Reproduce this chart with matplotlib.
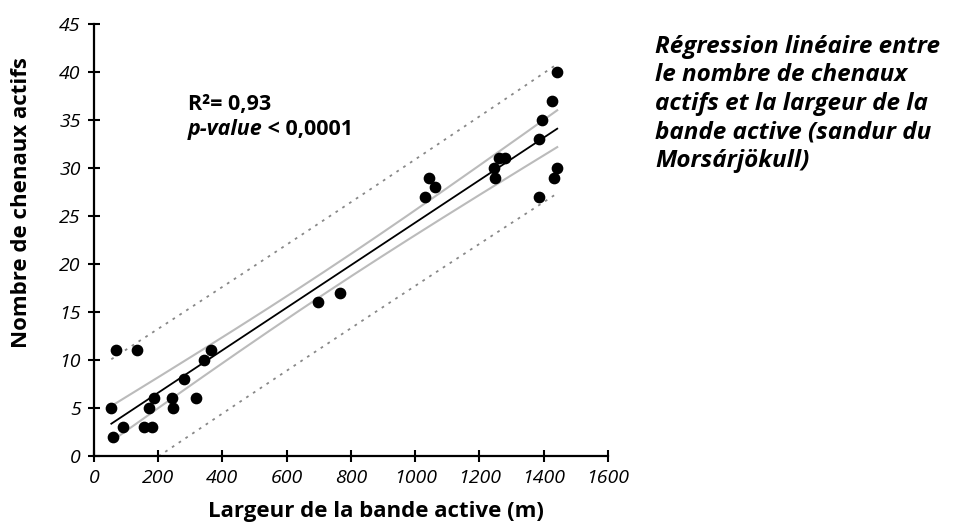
import numpy as np
import matplotlib
matplotlib.use("Agg")
import matplotlib.pyplot as plt

# largeur de la bande active (m) / nombre de chenaux actifs
largeur = [54, 59, 68, 89, 134, 155, 171, 182, 186, 242, 246, 281, 318, 343, 363,
           698, 767, 1031, 1042, 1063, 1245, 1249, 1260, 1279,
           1386, 1386, 1396, 1427, 1432, 1442, 1442]
chenaux = [5, 2, 11, 3, 11, 3, 5, 3, 6, 6, 5, 8, 6, 10, 11,
           16, 17, 27, 29, 28, 30, 29, 31, 31,
           27, 33, 35, 37, 29, 30, 40]

xticks = [0, 200, 400, 600, 800, 1000, 1200, 1400, 1600]
yticks = [0, 5, 10, 15, 20, 25, 30, 35, 40, 45]

titre = ['Régression linéaire entre', 'le nombre de chenaux',
         'actifs et la largeur de la', 'bande active (sandur du',
         'Morsárjökull)']

x = np.array(largeur, dtype=float)
y = np.array(chenaux, dtype=float)

# regression lineaire + bandes de confiance / prediction (95%)
n = len(x)
b, a = np.polyfit(x, y, 1)
res = y - (a + b * x)
s = np.sqrt(np.sum(res**2) / (n - 2))
t = 2.045
xx = np.linspace(x.min(), x.max(), 200)
yy = a + b * xx
sxx = np.sum((x - x.mean())**2)
ci = t * s * np.sqrt(1/n + (xx - x.mean())**2 / sxx)
pi = t * s * np.sqrt(1 + 1/n + (xx - x.mean())**2 / sxx)

plt.rcParams['font.family'] = ['Open Sans', 'DejaVu Sans']

fig = plt.figure(figsize=(9.54, 5.31), dpi=100)
ax = fig.add_axes([0.0985, 0.1412, 0.5388, 0.8136])

ax.plot(xx, yy + pi, color='#888888', lw=1.3, ls=(0, (1.5, 3)))
ax.plot(xx, yy - pi, color='#888888', lw=1.3, ls=(0, (1.5, 3)))
ax.plot(xx, yy + ci, color='#bbbbbb', lw=1.5)
ax.plot(xx, yy - ci, color='#bbbbbb', lw=1.5)
ax.plot(xx, yy, color='black', lw=1.3)
ax.scatter(x, y, s=55, color='black', zorder=3, clip_on=False)

ax.set_xlim(0, 1600)
ax.set_ylim(0, 45)
ax.set_xticks(xticks)
ax.set_yticks(yticks)
for sp in ['top', 'right']:
    ax.spines[sp].set_visible(False)
for sp in ['left', 'bottom']:
    ax.spines[sp].set_linewidth(1.6)
ax.tick_params(direction='inout', length=9, width=1.5, labelsize=14, pad=5)
for lab in ax.get_xticklabels() + ax.get_yticklabels():
    lab.set_fontstyle('italic')

ax.set_xlabel('Largeur de la bande active (m)', fontsize=16, fontweight='bold')
ax.set_ylabel('Nombre de chenaux actifs', fontsize=16, fontweight='bold')
ax.xaxis.set_label_coords(0.549, -0.105)
ax.yaxis.set_label_coords(-0.12, 0.586)

ax.text(0.182, 0.80, 'R²= 0,93', transform=ax.transAxes, fontsize=15.5,
        fontweight='bold', va='baseline')
t1 = ax.text(0.182, 0.742, 'p-value', transform=ax.transAxes, fontsize=15.5,
             fontweight='bold', fontstyle='italic', va='baseline')
ax.annotate(' < 0,0001', xy=(1, 0), xycoords=t1, fontsize=15.5, fontweight='bold',
            va='bottom')

for i, ligne in enumerate(titre):
    fig.text(655 / 954, 1 - (53 + 28.5 * i) / 531, ligne, fontsize=17.5,
             fontweight='bold', fontstyle='italic', va='baseline', ha='left')

fig.savefig('out.png', dpi=100)
